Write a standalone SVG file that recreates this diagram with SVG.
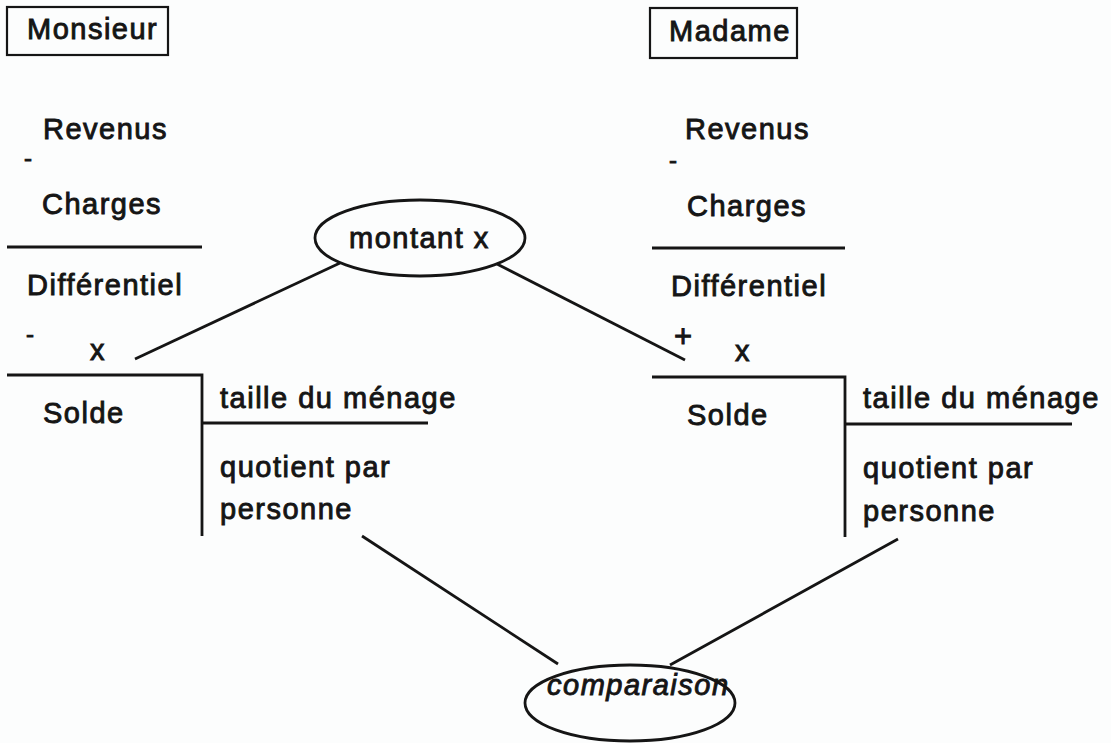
<svg xmlns="http://www.w3.org/2000/svg" width="1111" height="743" viewBox="0 0 1111 743">
<style>
  .t { font-family: "Liberation Sans", Arial, sans-serif; font-size: 29px; letter-spacing: 1.5px; fill: #151515; stroke: #151515; stroke-width: 0.9px; }
  .it { font-style: italic; }
  .sm { font-size: 24px; letter-spacing: 0; }
  .ln { stroke: #151515; stroke-width: 2.8; fill: none; stroke-linecap: butt; }
  .box { stroke: #151515; stroke-width: 2.2; fill: none; }
</style>
<rect width="1111" height="743" fill="#fcfdfd"/>

<g id="monsieur">
  <rect class="box" x="7" y="7" width="161" height="48"/>
  <text class="t" x="27" y="39">Monsieur</text>
  <text class="t" x="43" y="139">Revenus</text>
  <text class="t sm" x="24" y="166">-</text>
  <text class="t" x="42" y="214">Charges</text>
  <line class="ln" x1="7" y1="247" x2="202" y2="247"/>
  <text class="t" x="27" y="295">Différentiel</text>
  <text class="t sm" x="26" y="342">-</text>
  <text class="t" x="90" y="360">x</text>
  <polyline class="ln" points="7,375 202,375 202,536"/>
  <text class="t" x="43" y="423">Solde</text>
  <line class="ln" x1="202" y1="423" x2="428" y2="423"/>
  <text class="t" x="220" y="408">taille du ménage</text>
  <text class="t" x="220" y="477">quotient par</text>
  <text class="t" x="220" y="519">personne</text>
</g>

<g id="madame">
  <rect class="box" x="650" y="8" width="147" height="50"/>
  <text class="t" x="669" y="41">Madame</text>
  <text class="t" x="685" y="139">Revenus</text>
  <text class="t sm" x="669" y="168">-</text>
  <text class="t" x="687" y="216">Charges</text>
  <line class="ln" x1="652" y1="248" x2="845" y2="248"/>
  <text class="t" x="671" y="296">Différentiel</text>
  <text class="t" x="674" y="347" style="font-size:31px">+</text>
  <text class="t" x="735" y="361">x</text>
  <polyline class="ln" points="652,377 845,377 845,537"/>
  <text class="t" x="687" y="425">Solde</text>
  <line class="ln" x1="845" y1="424" x2="1072" y2="424"/>
  <text class="t" x="863" y="408">taille du ménage</text>
  <text class="t" x="863" y="478">quotient par</text>
  <text class="t" x="863" y="521">personne</text>
</g>

<g id="montant">
  <ellipse class="ln" cx="420" cy="238" rx="105" ry="38"/>
  <text class="t" x="349" y="248">montant x</text>
</g>

<g id="comparaison">
  <ellipse class="ln" cx="630" cy="703" rx="105" ry="38"/>
  <text class="t it" x="547" y="695">comparaison</text>
</g>

<g id="connectors">
  <line class="ln" x1="135" y1="359" x2="340" y2="263"/>
  <line class="ln" x1="497" y1="264" x2="685" y2="360"/>
  <line class="ln" x1="362" y1="536" x2="558" y2="664"/>
  <line class="ln" x1="898" y1="539" x2="670" y2="665"/>
</g>
</svg>
